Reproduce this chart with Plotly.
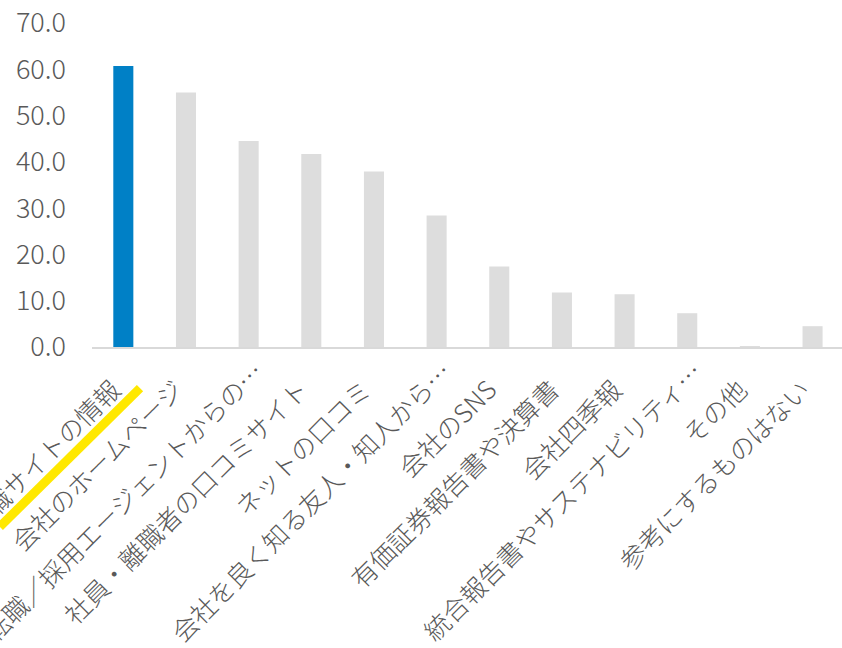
import plotly.graph_objects as go

categories = [
    "転職サイトの情報",
    "会社のホームページ",
    "転職／採用エージェントからの…",
    "社員・離職者の口コミサイト",
    "ネットの口コミ",
    "会社を良く知る友人・知人から…",
    "会社のSNS",
    "有価証券報告書や決算書",
    "会社四季報",
    "統合報告書やサステナビリティ…",
    "その他",
    "参考にするものはない",
]
values = [60.7, 55.0, 44.5, 41.7, 37.9, 28.4, 17.4, 11.8, 11.4, 7.3, 0.2, 4.5]
highlight_index = 0

BLUE = "#0080C6"
GREY = "#DDDDDD"
colors = [BLUE if i == highlight_index else GREY for i in range(len(values))]

# Excel-style label layout: truncated labels (ending with …) sit one em further
# along the text direction than full labels; mimic with a trailing ideographic space.
ticktext = [c if c.endswith("…") else c + "\u3000" for c in categories]

FONT = "Noto Sans CJK JP"
TXT = "#595959"

fig = go.Figure(
    go.Bar(
        x=categories,
        y=values,
        marker=dict(color=colors, line=dict(width=0)),
        width=0.32,
        hoverinfo="x+y",
    )
)

fig.update_layout(
    width=842,
    height=648,
    margin=dict(l=92, r=0, t=23, b=301),
    paper_bgcolor="white",
    plot_bgcolor="white",
    showlegend=False,
    font=dict(family=FONT, color=TXT),
    xaxis=dict(
        type="category",
        range=[-0.5, 11.47],
        tickmode="array",
        tickvals=categories,
        ticktext=ticktext,
        tickangle=-45,
        tickfont=dict(family=FONT, size=25.5, color=TXT, weight=300),
        ticklabelshift=8,
        ticklabelstandoff=-2,
        showgrid=False,
        showline=True,
        linecolor="#D9D9D9",
        linewidth=1.5,
        ticks="",
        automargin=False,
        fixedrange=True,
    ),
    yaxis=dict(
        range=[0, 70],
        tickvals=[0, 10, 20, 30, 40, 50, 60, 70],
        tickformat=".1f",
        tickfont=dict(family=FONT, size=27, color=TXT, weight=300),
        showgrid=False,
        zeroline=False,
        showline=False,
        ticks="",
        ticklabelstandoff=25,
        automargin=False,
        fixedrange=True,
    ),
    shapes=[
        dict(
            type="line",
            xref="paper",
            yref="paper",
            x0=-0.123,
            y0=-0.555,
            x1=0.064,
            y1=-0.127,
            line=dict(color="#FFE800", width=9),
            layer="above",
        )
    ],
)

fig.write_html("out.html")
